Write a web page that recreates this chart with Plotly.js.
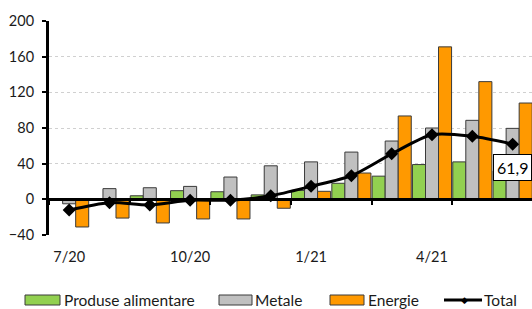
<!DOCTYPE html>
<html>
<head>
<meta charset="utf-8">
<script src="https://cdn.plot.ly/plotly-3.0.1.min.js"></script>
<style>html,body{margin:0;padding:0;background:#fff;}#chart{width:532px;height:309px;}</style>
</head>
<body>
<div id="chart"></div>
<script>
// Data
const months = ['7/20','8/20','9/20','10/20','11/20','12/20','1/21','2/21','3/21','4/21','5/21','6/21'];
const tickLabels = ['7/20','10/20','1/21','4/21'];
const alimentare = [-1, 0.5, 4, 9.7, 8.5, 5, 10, 18, 26, 39, 42, 32];
const metale = [-5, 12, 13, 14.5, 25, 37.6, 42, 53, 65.4, 80, 88.6, 79.6];
const energie = [-31, -21, -26.5, -22, -22, -10, 9, 29.5, 93.5, 171, 132, 108];
const total = [-12, -3.7, -6.3, -1, -1, 4, 14.6, 26.5, 51, 72.5, 70.7, 61.9];
const lastLabel = '61,9';
const seriesNames = ['Produse alimentare','Metale','Energie','Total'];

const FONT = 'Lato, "Open Sans", sans-serif';
const xs = months.map((_, i) => i);
const tickvals = tickLabels.map(l => months.indexOf(l));
const outline = {color: '#3a3a3a', width: 1};

const traces = [
  {type:'bar', name: seriesNames[0], x: xs, y: alimentare, marker:{color:'#92D050', line: outline}, showlegend:false, hoverinfo:'skip'},
  {type:'bar', name: seriesNames[1], x: xs, y: metale, marker:{color:'#C0C0C0', line: outline}, showlegend:false, hoverinfo:'skip'},
  {type:'bar', name: seriesNames[2], x: xs, y: energie, marker:{color:'#FF9900', line: outline}, showlegend:false, hoverinfo:'skip'},
  {type:'scatter', mode:'lines+markers', name: seriesNames[3], x: xs, y: total,
   line:{color:'#000', width:3, shape:'spline', smoothing:0.8},
   marker:{symbol:'diamond', size:10, color:'#000'}, showlegend:false, hoverinfo:'skip'}
];

// custom legend (paper coordinates)
const px = p => (p - 49) / 483;
const py = p => (235 - p) / 214;
const LEG_Y = 300;
const legendShapes = [];
const legendAnn = [];
const legFont = {family:FONT, size:15.5, color:'#1a1a1a'};
const swatches = [
  {x0:25, x1:60, color:'#92D050', tx:63, name: seriesNames[0]},
  {x0:219, x1:252, color:'#C0C0C0', tx:254, name: seriesNames[1]},
  {x0:330, x1:364, color:'#FF9900', tx:367, name: seriesNames[2]}
];
swatches.forEach(s => {
  legendShapes.push({type:'rect', xref:'paper', yref:'paper', x0:px(s.x0), x1:px(s.x1), y0:py(LEG_Y-5), y1:py(LEG_Y+5),
    fillcolor:s.color, line:{color:'#3a3a3a', width:1}});
  legendAnn.push({xref:'paper', yref:'paper', x:px(s.tx), y:py(LEG_Y), xanchor:'left', yanchor:'middle',
    text:s.name, showarrow:false, borderpad:0, font:legFont});
});
legendShapes.push({type:'line', xref:'paper', yref:'paper', x0:px(444), x1:px(482), y0:py(LEG_Y), y1:py(LEG_Y), line:{color:'#000', width:3}});
legendAnn.push({xref:'paper', yref:'paper', x:px(464), y:py(LEG_Y), xanchor:'center', yanchor:'middle', text:'◆', showarrow:false, borderpad:0, font:{family:'DejaVu Sans', size:9, color:'#000'}});
legendAnn.push({xref:'paper', yref:'paper', x:px(483), y:py(LEG_Y), xanchor:'left', yanchor:'middle', text:seriesNames[3], showarrow:false, borderpad:0, font:legFont});

// data label on last total point
const li = total.length - 1;
legendAnn.push({x: xs[li], y: total[li], xref:'x', yref:'y', text: lastLabel, showarrow:false, yshift:-23,
  bgcolor:'#fff', bordercolor:'#000', borderwidth:1, borderpad:3, font:{family:FONT, size:16, color:'#000'}});

const layout = {
  width:532, height:309,
  margin:{l:49, r:0, t:21, b:74},
  paper_bgcolor:'#fff', plot_bgcolor:'#fff',
  font:{family:FONT, size:14, color:'#1a1a1a'},
  barmode:'group', bargap:0.03, bargroupgap:0,
  showlegend:false,
  xaxis:{
    range:[-0.5, 11.48], anchor:'free', position: 40/240,
    showline:true, linecolor:'#000', linewidth:3,
    showgrid:false, zeroline:false,
    tickmode:'array', tickvals: tickvals, ticktext: tickLabels, ticks:'',
    ticklabelstandoff: 43,
    tickfont:{family:FONT, size:14.5, color:'#1a1a1a'},
    minor:{tickmode:'linear', tick0:1.5, dtick:2, ticks:'outside', ticklen:4, tickwidth:2, tickcolor:'#000', showgrid:false}
  },
  yaxis:{
    range:[-40, 200], tickmode:'linear', tick0:-40, dtick:40,
    showline:true, linecolor:'#000', linewidth:3,
    ticks:'outside', ticklen:4, tickwidth:2, tickcolor:'#000',
    ticklabelstandoff: 5,
    showgrid:true, gridcolor:'#d0d0d0', gridwidth:1, griddash:'dot',
    zeroline:false,
    tickfont:{family:FONT, size:14.5, color:'#1a1a1a'}
  },
  shapes: legendShapes,
  annotations: legendAnn
};

Plotly.newPlot('chart', traces, layout, {displayModeBar:false, staticPlot:true});
</script>
</body>
</html>
